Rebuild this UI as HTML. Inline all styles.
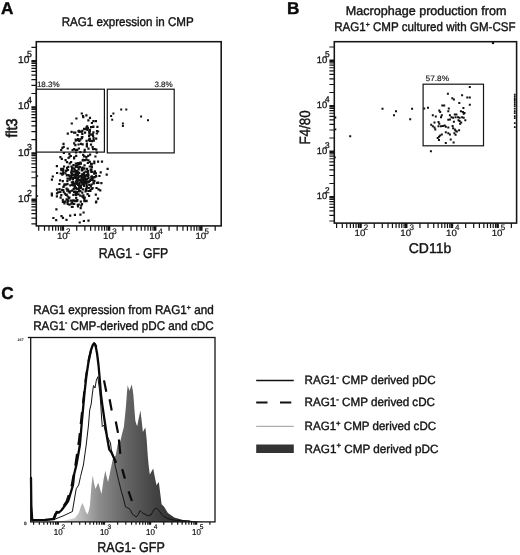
<!DOCTYPE html>
<html><head><meta charset="utf-8"><title>Figure</title>
<style>html,body{margin:0;padding:0;background:#fff}svg{display:block;font-family:'Liberation Sans', Arial, sans-serif;text-rendering:geometricPrecision}</style>
</head><body>
<svg width="520" height="555" viewBox="0 0 520 555">
<rect width="520" height="555" fill="#fff"/>
<text x="1.0" y="14.4" font-size="17.2" text-anchor="start" font-weight="bold" fill="#0a0a0a" stroke="#0a0a0a" stroke-width="0.4">A</text>
<text x="286.9" y="14.4" font-size="17.2" text-anchor="start" font-weight="bold" fill="#0a0a0a" stroke="#0a0a0a" stroke-width="0.4">B</text>
<text x="1.2" y="298.5" font-size="17.2" text-anchor="start" font-weight="bold" fill="#0a0a0a" stroke="#0a0a0a" stroke-width="0.4">C</text>
<text x="61.7" y="25.6" font-size="12.6" text-anchor="start" font-weight="normal" fill="#141414" stroke="#141414" stroke-width="0.4" textLength="132" lengthAdjust="spacingAndGlyphs">RAG1 expression in CMP</text>
<text x="345.8" y="14.8" font-size="12.6" text-anchor="start" font-weight="normal" fill="#141414" stroke="#141414" stroke-width="0.4" textLength="160.7" lengthAdjust="spacingAndGlyphs">Macrophage production from</text>
<text x="334.2" y="30.8" font-size="12.6" text-anchor="start" font-weight="normal" fill="#141414" stroke="#141414" stroke-width="0.4" textLength="181.4" lengthAdjust="spacingAndGlyphs">RAG1<tspan font-size="7.5" dy="-4.2">+</tspan><tspan dy="4.2"> CMP cultured with GM-CSF</tspan></text>
<text x="33.2" y="313.8" font-size="12.6" text-anchor="start" font-weight="normal" fill="#141414" stroke="#141414" stroke-width="0.4" textLength="180.5" lengthAdjust="spacingAndGlyphs">RAG1 expression from RAG1<tspan font-size="7.5" dy="-4.2">+</tspan><tspan dy="4.2"> and</tspan></text>
<text x="33.2" y="329.5" font-size="12.6" text-anchor="start" font-weight="normal" fill="#141414" stroke="#141414" stroke-width="0.4" textLength="180.5" lengthAdjust="spacingAndGlyphs">RAG1<tspan font-size="7.5" dy="-4.2">-</tspan><tspan dy="4.2"> CMP-derived pDC and cDC</tspan></text>
<rect x="36.3" y="41.7" width="184.89999999999998" height="184.2" fill="#fff" stroke="#141414" stroke-width="1.55"/>
<path d="M38.72 225.9v4.9M44.49 225.9v4.9M48.96 225.9v4.9M52.61 225.9v4.9M55.70 225.9v4.9M58.38 225.9v4.9M60.74 225.9v4.9M76.74 225.9v4.9M84.87 225.9v4.9M90.64 225.9v4.9M95.11 225.9v4.9M98.76 225.9v4.9M101.85 225.9v4.9M104.53 225.9v4.9M106.89 225.9v4.9M122.89 225.9v4.9M131.02 225.9v4.9M136.79 225.9v4.9M141.26 225.9v4.9M144.91 225.9v4.9M148.00 225.9v4.9M150.68 225.9v4.9M153.04 225.9v4.9M169.04 225.9v4.9M177.17 225.9v4.9M182.94 225.9v4.9M187.41 225.9v4.9M191.06 225.9v4.9M194.15 225.9v4.9M196.83 225.9v4.9M199.19 225.9v4.9M215.19 225.9v4.9" stroke="#141414" stroke-width="1.2" fill="none"/>
<path d="M62.85 225.9v4.9M109.00 225.9v4.9M155.15 225.9v4.9M201.30 225.9v4.9" stroke="#141414" stroke-width="2.52" fill="none"/>
<path d="M36.3 223.96h-4.9M36.3 218.18h-4.9M36.3 213.71h-4.9M36.3 210.05h-4.9M36.3 206.96h-4.9M36.3 204.28h-4.9M36.3 201.91h-4.9M36.3 185.89h-4.9M36.3 177.76h-4.9M36.3 171.98h-4.9M36.3 167.51h-4.9M36.3 163.85h-4.9M36.3 160.76h-4.9M36.3 158.08h-4.9M36.3 155.71h-4.9M36.3 139.69h-4.9M36.3 131.56h-4.9M36.3 125.78h-4.9M36.3 121.31h-4.9M36.3 117.65h-4.9M36.3 114.56h-4.9M36.3 111.88h-4.9M36.3 109.51h-4.9M36.3 93.49h-4.9M36.3 85.36h-4.9M36.3 79.58h-4.9M36.3 75.11h-4.9M36.3 71.45h-4.9M36.3 68.36h-4.9M36.3 65.68h-4.9M36.3 63.31h-4.9M36.3 47.29h-4.9" stroke="#141414" stroke-width="1.2" fill="none"/>
<path d="M36.3 199.80h-4.9M36.3 153.60h-4.9M36.3 107.40h-4.9M36.3 61.20h-4.9" stroke="#141414" stroke-width="2.52" fill="none"/>
<text x="67.75" y="239.2" font-size="9.0" text-anchor="end" fill="#141414" stroke="#141414" stroke-width="0.2" textLength="10.8" lengthAdjust="spacingAndGlyphs">10</text>
<text x="66.05" y="233.5" font-size="8.0" text-anchor="start" fill="#141414" stroke="#141414" stroke-width="0.2">2</text>
<text x="113.90" y="239.2" font-size="9.0" text-anchor="end" fill="#141414" stroke="#141414" stroke-width="0.2" textLength="10.8" lengthAdjust="spacingAndGlyphs">10</text>
<text x="112.20" y="233.5" font-size="8.0" text-anchor="start" fill="#141414" stroke="#141414" stroke-width="0.2">3</text>
<text x="160.05" y="239.2" font-size="9.0" text-anchor="end" fill="#141414" stroke="#141414" stroke-width="0.2" textLength="10.8" lengthAdjust="spacingAndGlyphs">10</text>
<text x="158.35" y="233.5" font-size="8.0" text-anchor="start" fill="#141414" stroke="#141414" stroke-width="0.2">4</text>
<text x="206.20" y="239.2" font-size="9.0" text-anchor="end" fill="#141414" stroke="#141414" stroke-width="0.2" textLength="10.8" lengthAdjust="spacingAndGlyphs">10</text>
<text x="204.50" y="233.5" font-size="8.0" text-anchor="start" fill="#141414" stroke="#141414" stroke-width="0.2">5</text>
<text x="29.3" y="201.70" font-size="10.0" text-anchor="end" fill="#141414" stroke="#141414" stroke-width="0.3" textLength="11.3" lengthAdjust="spacingAndGlyphs">10</text>
<text x="27.0" y="195.80" font-size="8.8" text-anchor="start" fill="#141414" stroke="#141414" stroke-width="0.3">2</text>
<text x="29.3" y="155.50" font-size="10.0" text-anchor="end" fill="#141414" stroke="#141414" stroke-width="0.3" textLength="11.3" lengthAdjust="spacingAndGlyphs">10</text>
<text x="27.0" y="149.60" font-size="8.8" text-anchor="start" fill="#141414" stroke="#141414" stroke-width="0.3">3</text>
<text x="29.3" y="109.30" font-size="10.0" text-anchor="end" fill="#141414" stroke="#141414" stroke-width="0.3" textLength="11.3" lengthAdjust="spacingAndGlyphs">10</text>
<text x="27.0" y="103.40" font-size="8.8" text-anchor="start" fill="#141414" stroke="#141414" stroke-width="0.3">4</text>
<text x="29.3" y="63.10" font-size="10.0" text-anchor="end" fill="#141414" stroke="#141414" stroke-width="0.3" textLength="11.3" lengthAdjust="spacingAndGlyphs">10</text>
<text x="27.0" y="57.20" font-size="8.8" text-anchor="start" fill="#141414" stroke="#141414" stroke-width="0.3">5</text>
<rect x="36.3" y="89.2" width="68.10000000000001" height="62.89999999999999" fill="none" stroke="#141414" stroke-width="1.2"/>
<rect x="107.3" y="89.2" width="66.89999999999999" height="63.7" fill="none" stroke="#141414" stroke-width="1.2"/>
<text x="36.9" y="86.8" font-size="7.8" text-anchor="start" font-weight="normal" fill="#141414" stroke="#141414" stroke-width="0.15" textLength="22.8" lengthAdjust="spacingAndGlyphs">18.3%</text>
<text x="154.4" y="86.8" font-size="7.8" text-anchor="start" font-weight="normal" fill="#141414" stroke="#141414" stroke-width="0.15" textLength="18.4" lengthAdjust="spacingAndGlyphs">3.8%</text>
<path d="M112.4 112.6h2.0v2.0h-2.0zM110.1 115.0h2.0v2.0h-2.0zM111.2 118.7h2.0v2.0h-2.0zM120.2 108.6h2.0v2.0h-2.0zM125.3 108.6h2.0v2.0h-2.0zM121.9 122.5h2.0v2.0h-2.0zM121.9 125.0h2.0v2.0h-2.0zM140.1 115.5h2.0v2.0h-2.0zM147.0 119.3h2.0v2.0h-2.0z" fill="#111"/>
<path d="M76.3 179.0h2.2v2.2h-2.2zM76.5 171.1h2.2v2.2h-2.2zM70.8 172.8h2.2v2.2h-2.2zM87.5 176.9h2.2v2.2h-2.2zM86.9 175.3h2.2v2.2h-2.2zM81.6 175.3h2.2v2.2h-2.2zM64.7 183.6h2.2v2.2h-2.2zM82.6 178.1h2.2v2.2h-2.2zM64.5 159.0h2.2v2.2h-2.2zM71.1 170.3h2.2v2.2h-2.2zM80.9 173.2h2.2v2.2h-2.2zM82.7 167.3h2.2v2.2h-2.2zM80.9 177.3h2.2v2.2h-2.2zM73.0 190.8h2.2v2.2h-2.2zM83.0 184.7h2.2v2.2h-2.2zM73.3 167.5h2.2v2.2h-2.2zM75.6 173.2h2.2v2.2h-2.2zM83.6 175.6h2.2v2.2h-2.2zM74.7 165.3h2.2v2.2h-2.2zM74.1 185.9h2.2v2.2h-2.2zM71.8 177.0h2.2v2.2h-2.2zM81.9 159.4h2.2v2.2h-2.2zM78.8 186.2h2.2v2.2h-2.2zM61.9 172.8h2.2v2.2h-2.2zM77.5 166.3h2.2v2.2h-2.2zM82.5 172.8h2.2v2.2h-2.2zM66.4 183.1h2.2v2.2h-2.2zM83.9 182.2h2.2v2.2h-2.2zM90.2 176.0h2.2v2.2h-2.2zM79.4 161.5h2.2v2.2h-2.2zM83.4 167.5h2.2v2.2h-2.2zM74.7 162.4h2.2v2.2h-2.2zM70.5 169.8h2.2v2.2h-2.2zM89.0 153.5h2.2v2.2h-2.2zM66.4 177.5h2.2v2.2h-2.2zM90.2 178.0h2.2v2.2h-2.2zM62.8 151.9h2.2v2.2h-2.2zM81.3 166.6h2.2v2.2h-2.2zM69.2 184.2h2.2v2.2h-2.2zM87.4 174.3h2.2v2.2h-2.2zM80.4 177.8h2.2v2.2h-2.2zM91.5 178.2h2.2v2.2h-2.2zM82.7 178.6h2.2v2.2h-2.2zM65.5 187.5h2.2v2.2h-2.2zM86.2 178.0h2.2v2.2h-2.2zM62.2 169.8h2.2v2.2h-2.2zM85.3 156.0h2.2v2.2h-2.2zM76.9 183.7h2.2v2.2h-2.2zM67.6 190.4h2.2v2.2h-2.2zM82.9 172.0h2.2v2.2h-2.2zM81.1 179.7h2.2v2.2h-2.2zM79.4 184.6h2.2v2.2h-2.2zM73.0 170.6h2.2v2.2h-2.2zM86.9 173.2h2.2v2.2h-2.2zM71.2 183.7h2.2v2.2h-2.2zM90.4 168.3h2.2v2.2h-2.2zM67.1 173.9h2.2v2.2h-2.2zM77.2 171.2h2.2v2.2h-2.2zM89.9 162.9h2.2v2.2h-2.2zM88.7 160.7h2.2v2.2h-2.2zM71.9 180.6h2.2v2.2h-2.2zM87.7 180.9h2.2v2.2h-2.2zM81.2 174.9h2.2v2.2h-2.2zM79.7 179.2h2.2v2.2h-2.2zM77.0 176.7h2.2v2.2h-2.2zM83.1 173.4h2.2v2.2h-2.2zM84.7 178.5h2.2v2.2h-2.2zM94.9 175.1h2.2v2.2h-2.2zM74.9 170.8h2.2v2.2h-2.2zM78.3 182.6h2.2v2.2h-2.2zM75.6 177.9h2.2v2.2h-2.2zM93.5 147.9h2.2v2.2h-2.2zM69.2 177.3h2.2v2.2h-2.2zM81.7 175.8h2.2v2.2h-2.2zM74.9 180.5h2.2v2.2h-2.2zM80.7 168.7h2.2v2.2h-2.2zM98.3 174.9h2.2v2.2h-2.2zM73.9 173.5h2.2v2.2h-2.2zM76.6 173.5h2.2v2.2h-2.2zM56.0 171.9h2.2v2.2h-2.2zM86.7 161.9h2.2v2.2h-2.2zM77.9 183.0h2.2v2.2h-2.2zM85.4 187.2h2.2v2.2h-2.2zM64.4 172.2h2.2v2.2h-2.2zM75.6 180.1h2.2v2.2h-2.2zM87.4 147.5h2.2v2.2h-2.2zM87.3 159.2h2.2v2.2h-2.2zM84.0 159.1h2.2v2.2h-2.2zM79.8 185.0h2.2v2.2h-2.2zM77.2 175.8h2.2v2.2h-2.2zM84.9 174.5h2.2v2.2h-2.2zM77.7 188.5h2.2v2.2h-2.2zM87.0 170.1h2.2v2.2h-2.2zM100.9 160.5h2.2v2.2h-2.2zM85.9 170.5h2.2v2.2h-2.2zM79.5 180.4h2.2v2.2h-2.2zM80.2 179.7h2.2v2.2h-2.2zM65.9 161.1h2.2v2.2h-2.2zM83.4 164.2h2.2v2.2h-2.2zM70.0 161.0h2.2v2.2h-2.2zM88.8 179.8h2.2v2.2h-2.2zM90.5 163.6h2.2v2.2h-2.2zM78.4 163.1h2.2v2.2h-2.2zM84.7 188.2h2.2v2.2h-2.2zM71.1 189.5h2.2v2.2h-2.2zM86.5 171.3h2.2v2.2h-2.2zM62.2 189.1h2.2v2.2h-2.2zM77.6 168.3h2.2v2.2h-2.2zM81.7 177.4h2.2v2.2h-2.2zM90.7 162.8h2.2v2.2h-2.2zM87.7 186.9h2.2v2.2h-2.2zM90.3 170.8h2.2v2.2h-2.2zM72.3 184.2h2.2v2.2h-2.2zM79.3 175.0h2.2v2.2h-2.2zM90.1 170.1h2.2v2.2h-2.2zM59.6 172.4h2.2v2.2h-2.2zM63.2 183.4h2.2v2.2h-2.2zM81.0 167.8h2.2v2.2h-2.2zM78.3 181.8h2.2v2.2h-2.2zM79.0 186.4h2.2v2.2h-2.2zM77.9 183.8h2.2v2.2h-2.2zM90.6 187.7h2.2v2.2h-2.2zM72.9 182.9h2.2v2.2h-2.2zM63.0 165.4h2.2v2.2h-2.2zM62.3 185.9h2.2v2.2h-2.2zM68.3 174.9h2.2v2.2h-2.2zM76.8 173.8h2.2v2.2h-2.2zM73.5 176.7h2.2v2.2h-2.2zM93.1 172.6h2.2v2.2h-2.2zM82.8 182.9h2.2v2.2h-2.2zM76.8 162.2h2.2v2.2h-2.2zM73.8 184.6h2.2v2.2h-2.2zM64.9 169.8h2.2v2.2h-2.2zM86.7 180.4h2.2v2.2h-2.2zM78.5 181.5h2.2v2.2h-2.2zM79.8 162.6h2.2v2.2h-2.2zM65.6 169.3h2.2v2.2h-2.2zM86.0 167.7h2.2v2.2h-2.2zM71.0 167.5h2.2v2.2h-2.2zM65.8 174.2h2.2v2.2h-2.2zM68.7 178.5h2.2v2.2h-2.2zM59.0 179.2h2.2v2.2h-2.2zM73.1 156.2h2.2v2.2h-2.2zM84.3 170.6h2.2v2.2h-2.2zM60.1 167.7h2.2v2.2h-2.2zM80.8 169.3h2.2v2.2h-2.2zM84.8 180.2h2.2v2.2h-2.2zM83.9 176.4h2.2v2.2h-2.2zM89.3 178.9h2.2v2.2h-2.2zM82.1 153.8h2.2v2.2h-2.2zM85.8 185.4h2.2v2.2h-2.2zM76.0 169.7h2.2v2.2h-2.2zM94.3 155.4h2.2v2.2h-2.2zM82.2 196.4h2.2v2.2h-2.2zM70.8 181.3h2.2v2.2h-2.2zM93.9 171.0h2.2v2.2h-2.2zM83.0 181.9h2.2v2.2h-2.2zM71.0 173.9h2.2v2.2h-2.2zM80.8 181.4h2.2v2.2h-2.2zM78.1 172.1h2.2v2.2h-2.2zM70.1 171.5h2.2v2.2h-2.2zM85.7 174.0h2.2v2.2h-2.2zM71.4 166.8h2.2v2.2h-2.2zM100.3 182.1h2.2v2.2h-2.2zM83.6 148.8h2.2v2.2h-2.2zM83.5 177.9h2.2v2.2h-2.2zM92.2 176.3h2.2v2.2h-2.2zM77.8 178.9h2.2v2.2h-2.2zM62.5 185.5h2.2v2.2h-2.2zM81.1 167.0h2.2v2.2h-2.2zM89.3 189.7h2.2v2.2h-2.2zM66.9 168.9h2.2v2.2h-2.2zM80.8 175.4h2.2v2.2h-2.2zM75.1 165.1h2.2v2.2h-2.2zM95.8 181.7h2.2v2.2h-2.2zM68.6 162.3h2.2v2.2h-2.2zM92.4 181.6h2.2v2.2h-2.2zM93.3 179.8h2.2v2.2h-2.2zM71.2 177.2h2.2v2.2h-2.2zM60.7 168.9h2.2v2.2h-2.2zM77.9 178.9h2.2v2.2h-2.2zM72.4 173.4h2.2v2.2h-2.2zM82.2 177.0h2.2v2.2h-2.2zM83.6 175.3h2.2v2.2h-2.2zM75.7 181.7h2.2v2.2h-2.2zM78.8 166.0h2.2v2.2h-2.2zM73.3 174.5h2.2v2.2h-2.2zM77.5 175.5h2.2v2.2h-2.2zM78.4 175.6h2.2v2.2h-2.2zM77.3 162.1h2.2v2.2h-2.2zM80.9 203.0h2.2v2.2h-2.2zM81.1 182.3h2.2v2.2h-2.2zM81.2 169.3h2.2v2.2h-2.2zM50.8 194.3h2.2v2.2h-2.2zM63.3 202.4h2.2v2.2h-2.2zM61.3 146.8h2.2v2.2h-2.2zM61.9 216.7h2.2v2.2h-2.2zM70.4 165.4h2.2v2.2h-2.2zM65.5 198.2h2.2v2.2h-2.2zM81.9 188.2h2.2v2.2h-2.2zM94.7 193.6h2.2v2.2h-2.2zM75.1 196.9h2.2v2.2h-2.2zM96.9 197.5h2.2v2.2h-2.2zM88.7 165.4h2.2v2.2h-2.2zM73.5 199.6h2.2v2.2h-2.2zM71.5 205.7h2.2v2.2h-2.2zM83.2 200.0h2.2v2.2h-2.2zM91.5 179.1h2.2v2.2h-2.2zM70.9 202.6h2.2v2.2h-2.2zM88.1 183.7h2.2v2.2h-2.2zM60.2 194.0h2.2v2.2h-2.2zM80.1 204.5h2.2v2.2h-2.2zM85.6 184.6h2.2v2.2h-2.2zM86.5 193.0h2.2v2.2h-2.2zM78.1 187.1h2.2v2.2h-2.2zM72.2 199.2h2.2v2.2h-2.2zM61.7 180.0h2.2v2.2h-2.2zM75.5 162.5h2.2v2.2h-2.2zM69.7 154.9h2.2v2.2h-2.2zM66.5 198.7h2.2v2.2h-2.2zM82.8 184.1h2.2v2.2h-2.2zM72.4 164.1h2.2v2.2h-2.2zM99.2 189.3h2.2v2.2h-2.2zM89.6 168.5h2.2v2.2h-2.2zM73.0 157.2h2.2v2.2h-2.2zM85.5 199.8h2.2v2.2h-2.2zM50.7 192.5h2.2v2.2h-2.2zM83.6 155.4h2.2v2.2h-2.2zM51.7 175.4h2.2v2.2h-2.2zM67.2 165.7h2.2v2.2h-2.2zM75.8 191.0h2.2v2.2h-2.2zM83.6 196.4h2.2v2.2h-2.2zM94.9 201.2h2.2v2.2h-2.2zM58.3 182.9h2.2v2.2h-2.2zM61.6 172.6h2.2v2.2h-2.2zM74.3 187.3h2.2v2.2h-2.2zM81.8 158.8h2.2v2.2h-2.2zM59.3 190.7h2.2v2.2h-2.2zM72.8 182.4h2.2v2.2h-2.2zM74.6 174.5h2.2v2.2h-2.2zM84.5 190.4h2.2v2.2h-2.2zM74.3 176.0h2.2v2.2h-2.2zM73.1 142.2h2.2v2.2h-2.2zM62.6 190.9h2.2v2.2h-2.2zM55.8 195.3h2.2v2.2h-2.2zM77.3 163.5h2.2v2.2h-2.2zM72.1 182.5h2.2v2.2h-2.2zM81.4 195.5h2.2v2.2h-2.2zM74.9 172.8h2.2v2.2h-2.2zM73.5 186.3h2.2v2.2h-2.2zM84.9 189.3h2.2v2.2h-2.2zM66.0 166.8h2.2v2.2h-2.2zM70.5 175.8h2.2v2.2h-2.2zM60.9 188.7h2.2v2.2h-2.2zM69.0 190.3h2.2v2.2h-2.2zM82.2 178.2h2.2v2.2h-2.2zM105.6 173.6h2.2v2.2h-2.2zM89.7 185.2h2.2v2.2h-2.2zM89.9 143.5h2.2v2.2h-2.2zM65.6 193.6h2.2v2.2h-2.2zM79.6 207.1h2.2v2.2h-2.2zM85.4 200.1h2.2v2.2h-2.2zM82.0 182.6h2.2v2.2h-2.2zM82.0 167.2h2.2v2.2h-2.2zM90.8 165.9h2.2v2.2h-2.2zM78.6 221.4h2.2v2.2h-2.2zM72.5 188.0h2.2v2.2h-2.2zM90.5 183.4h2.2v2.2h-2.2zM64.9 193.9h2.2v2.2h-2.2zM83.0 196.7h2.2v2.2h-2.2zM65.4 218.7h2.2v2.2h-2.2zM97.1 181.5h2.2v2.2h-2.2zM78.9 178.8h2.2v2.2h-2.2zM93.8 170.3h2.2v2.2h-2.2zM84.2 176.6h2.2v2.2h-2.2zM66.4 201.2h2.2v2.2h-2.2zM92.7 182.2h2.2v2.2h-2.2zM66.6 202.7h2.2v2.2h-2.2zM74.8 192.2h2.2v2.2h-2.2zM95.2 200.6h2.2v2.2h-2.2zM75.4 200.0h2.2v2.2h-2.2zM67.0 188.4h2.2v2.2h-2.2zM93.2 162.0h2.2v2.2h-2.2zM55.8 165.0h2.2v2.2h-2.2zM90.7 175.2h2.2v2.2h-2.2zM74.6 181.9h2.2v2.2h-2.2zM73.8 169.2h2.2v2.2h-2.2zM75.7 162.9h2.2v2.2h-2.2zM74.5 192.3h2.2v2.2h-2.2zM81.5 181.5h2.2v2.2h-2.2zM63.7 192.6h2.2v2.2h-2.2zM69.1 214.6h2.2v2.2h-2.2zM85.4 182.4h2.2v2.2h-2.2zM69.3 176.8h2.2v2.2h-2.2zM63.2 184.2h2.2v2.2h-2.2zM79.2 194.5h2.2v2.2h-2.2zM82.8 219.9h2.2v2.2h-2.2zM66.2 189.5h2.2v2.2h-2.2zM68.6 191.5h2.2v2.2h-2.2zM77.4 193.2h2.2v2.2h-2.2zM72.3 193.8h2.2v2.2h-2.2zM76.1 199.6h2.2v2.2h-2.2zM50.8 178.6h2.2v2.2h-2.2zM75.4 169.7h2.2v2.2h-2.2zM61.8 200.9h2.2v2.2h-2.2zM67.0 199.7h2.2v2.2h-2.2zM85.1 189.5h2.2v2.2h-2.2zM82.0 183.4h2.2v2.2h-2.2zM57.1 191.2h2.2v2.2h-2.2zM81.3 176.5h2.2v2.2h-2.2zM74.1 199.7h2.2v2.2h-2.2zM64.0 200.5h2.2v2.2h-2.2zM99.6 171.3h2.2v2.2h-2.2zM77.3 183.9h2.2v2.2h-2.2zM95.4 186.9h2.2v2.2h-2.2zM87.1 172.4h2.2v2.2h-2.2zM75.2 186.8h2.2v2.2h-2.2zM52.3 216.9h2.2v2.2h-2.2zM87.1 154.7h2.2v2.2h-2.2zM85.1 182.2h2.2v2.2h-2.2zM81.2 191.5h2.2v2.2h-2.2zM55.9 188.5h2.2v2.2h-2.2zM94.8 172.2h2.2v2.2h-2.2zM62.1 167.7h2.2v2.2h-2.2zM59.5 196.6h2.2v2.2h-2.2zM97.4 188.3h2.2v2.2h-2.2zM68.6 177.4h2.2v2.2h-2.2zM82.3 194.2h2.2v2.2h-2.2zM62.2 170.9h2.2v2.2h-2.2zM79.2 190.0h2.2v2.2h-2.2zM58.4 188.0h2.2v2.2h-2.2zM68.3 196.4h2.2v2.2h-2.2zM73.9 185.9h2.2v2.2h-2.2zM70.8 205.7h2.2v2.2h-2.2zM93.5 176.1h2.2v2.2h-2.2zM86.4 171.4h2.2v2.2h-2.2zM76.3 199.1h2.2v2.2h-2.2zM95.1 175.4h2.2v2.2h-2.2zM74.4 190.4h2.2v2.2h-2.2zM55.9 192.3h2.2v2.2h-2.2zM66.6 195.4h2.2v2.2h-2.2zM60.7 157.8h2.2v2.2h-2.2zM75.9 191.1h2.2v2.2h-2.2zM68.3 203.6h2.2v2.2h-2.2zM71.8 177.7h2.2v2.2h-2.2zM81.6 159.2h2.2v2.2h-2.2zM66.6 188.9h2.2v2.2h-2.2zM86.4 181.3h2.2v2.2h-2.2zM79.4 174.9h2.2v2.2h-2.2zM79.3 213.6h2.2v2.2h-2.2zM67.0 189.4h2.2v2.2h-2.2zM77.7 203.4h2.2v2.2h-2.2zM59.3 156.1h2.2v2.2h-2.2zM83.3 198.1h2.2v2.2h-2.2zM78.1 190.4h2.2v2.2h-2.2zM87.5 189.9h2.2v2.2h-2.2zM97.0 160.6h2.2v2.2h-2.2zM70.5 130.8h2.2v2.2h-2.2zM86.0 177.9h2.2v2.2h-2.2zM87.4 219.6h2.2v2.2h-2.2zM75.3 182.7h2.2v2.2h-2.2zM68.9 174.6h2.2v2.2h-2.2zM67.2 199.7h2.2v2.2h-2.2zM75.9 187.9h2.2v2.2h-2.2zM73.1 202.7h2.2v2.2h-2.2zM81.8 182.9h2.2v2.2h-2.2zM84.0 182.1h2.2v2.2h-2.2zM60.4 215.1h2.2v2.2h-2.2zM81.4 169.4h2.2v2.2h-2.2zM89.4 189.0h2.2v2.2h-2.2zM55.1 219.0h2.2v2.2h-2.2zM79.7 200.6h2.2v2.2h-2.2zM78.0 183.7h2.2v2.2h-2.2zM55.3 208.3h2.2v2.2h-2.2zM75.8 182.0h2.2v2.2h-2.2zM80.0 187.0h2.2v2.2h-2.2zM84.2 178.4h2.2v2.2h-2.2zM74.9 151.4h2.2v2.2h-2.2zM69.9 199.6h2.2v2.2h-2.2zM92.8 176.3h2.2v2.2h-2.2zM73.8 213.7h2.2v2.2h-2.2zM71.2 200.2h2.2v2.2h-2.2zM97.2 181.9h2.2v2.2h-2.2zM91.3 170.9h2.2v2.2h-2.2zM78.1 184.9h2.2v2.2h-2.2zM76.9 205.3h2.2v2.2h-2.2zM106.5 167.7h2.2v2.2h-2.2zM67.9 197.1h2.2v2.2h-2.2zM61.7 198.8h2.2v2.2h-2.2zM82.8 180.3h2.2v2.2h-2.2zM82.3 159.3h2.2v2.2h-2.2zM85.3 158.6h2.2v2.2h-2.2zM66.3 180.0h2.2v2.2h-2.2zM70.2 202.6h2.2v2.2h-2.2zM76.5 180.0h2.2v2.2h-2.2zM82.5 211.4h2.2v2.2h-2.2zM75.5 193.0h2.2v2.2h-2.2zM91.5 187.1h2.2v2.2h-2.2zM74.9 194.0h2.2v2.2h-2.2zM88.0 194.8h2.2v2.2h-2.2zM71.9 170.3h2.2v2.2h-2.2zM76.7 203.8h2.2v2.2h-2.2zM61.2 173.5h2.2v2.2h-2.2zM75.1 154.7h2.2v2.2h-2.2zM72.0 180.5h2.2v2.2h-2.2zM81.3 173.7h2.2v2.2h-2.2zM63.9 183.3h2.2v2.2h-2.2zM74.8 176.0h2.2v2.2h-2.2zM75.6 199.4h2.2v2.2h-2.2zM95.2 148.5h2.2v2.2h-2.2zM76.5 134.0h2.2v2.2h-2.2zM60.3 169.1h2.2v2.2h-2.2zM77.0 138.1h2.2v2.2h-2.2zM88.9 116.7h2.2v2.2h-2.2zM88.3 132.3h2.2v2.2h-2.2zM66.6 147.4h2.2v2.2h-2.2zM91.6 133.3h2.2v2.2h-2.2zM88.4 137.6h2.2v2.2h-2.2zM96.3 125.8h2.2v2.2h-2.2zM92.2 125.8h2.2v2.2h-2.2zM90.8 121.9h2.2v2.2h-2.2zM82.9 155.3h2.2v2.2h-2.2zM88.1 130.9h2.2v2.2h-2.2zM73.0 131.6h2.2v2.2h-2.2zM85.7 144.7h2.2v2.2h-2.2zM87.9 138.8h2.2v2.2h-2.2zM83.5 150.6h2.2v2.2h-2.2zM80.2 130.6h2.2v2.2h-2.2zM92.3 131.2h2.2v2.2h-2.2zM81.3 129.7h2.2v2.2h-2.2zM81.5 143.3h2.2v2.2h-2.2zM87.3 119.3h2.2v2.2h-2.2zM88.0 134.8h2.2v2.2h-2.2zM74.4 148.8h2.2v2.2h-2.2zM81.2 132.5h2.2v2.2h-2.2zM91.5 146.1h2.2v2.2h-2.2zM77.4 143.4h2.2v2.2h-2.2zM75.6 165.8h2.2v2.2h-2.2zM79.2 151.1h2.2v2.2h-2.2zM77.8 147.4h2.2v2.2h-2.2zM79.8 142.8h2.2v2.2h-2.2zM83.0 127.7h2.2v2.2h-2.2zM68.3 152.9h2.2v2.2h-2.2zM67.5 156.7h2.2v2.2h-2.2zM78.4 139.4h2.2v2.2h-2.2zM95.9 129.9h2.2v2.2h-2.2zM70.7 122.4h2.2v2.2h-2.2zM95.1 137.5h2.2v2.2h-2.2zM76.2 148.8h2.2v2.2h-2.2zM88.6 139.8h2.2v2.2h-2.2zM62.4 142.7h2.2v2.2h-2.2zM92.5 138.8h2.2v2.2h-2.2zM85.5 139.7h2.2v2.2h-2.2zM80.8 137.0h2.2v2.2h-2.2zM92.3 125.4h2.2v2.2h-2.2zM94.8 120.1h2.2v2.2h-2.2zM86.4 127.5h2.2v2.2h-2.2zM85.4 126.2h2.2v2.2h-2.2zM68.7 155.4h2.2v2.2h-2.2zM86.8 127.0h2.2v2.2h-2.2zM85.8 145.2h2.2v2.2h-2.2zM74.6 138.5h2.2v2.2h-2.2zM89.0 138.2h2.2v2.2h-2.2zM80.7 112.4h2.2v2.2h-2.2zM95.7 132.4h2.2v2.2h-2.2zM84.0 131.6h2.2v2.2h-2.2zM86.4 128.7h2.2v2.2h-2.2zM74.2 131.5h2.2v2.2h-2.2zM78.2 130.9h2.2v2.2h-2.2zM72.9 148.0h2.2v2.2h-2.2zM71.5 149.0h2.2v2.2h-2.2zM74.3 144.0h2.2v2.2h-2.2zM97.0 130.4h2.2v2.2h-2.2zM77.0 139.1h2.2v2.2h-2.2zM85.3 114.3h2.2v2.2h-2.2zM78.1 139.8h2.2v2.2h-2.2zM79.4 138.2h2.2v2.2h-2.2zM90.9 140.0h2.2v2.2h-2.2zM92.5 137.1h2.2v2.2h-2.2zM81.2 136.1h2.2v2.2h-2.2zM81.3 132.7h2.2v2.2h-2.2zM82.2 116.0h2.2v2.2h-2.2zM80.7 136.3h2.2v2.2h-2.2zM74.6 139.5h2.2v2.2h-2.2zM88.8 130.4h2.2v2.2h-2.2zM81.9 115.0h2.2v2.2h-2.2zM93.2 160.4h2.2v2.2h-2.2zM60.1 148.9h2.2v2.2h-2.2zM88.8 128.8h2.2v2.2h-2.2zM92.0 134.9h2.2v2.2h-2.2zM84.1 128.1h2.2v2.2h-2.2zM90.0 126.1h2.2v2.2h-2.2zM86.0 127.9h2.2v2.2h-2.2zM62.6 145.8h2.2v2.2h-2.2zM85.8 142.5h2.2v2.2h-2.2zM75.6 138.9h2.2v2.2h-2.2zM89.8 133.5h2.2v2.2h-2.2zM95.7 151.5h2.2v2.2h-2.2zM75.3 117.4h2.2v2.2h-2.2zM92.0 148.1h2.2v2.2h-2.2zM92.7 139.6h2.2v2.2h-2.2zM78.0 129.8h2.2v2.2h-2.2zM92.3 120.0h2.2v2.2h-2.2zM66.7 132.5h2.2v2.2h-2.2zM77.4 130.0h2.2v2.2h-2.2zM86.1 125.2h2.2v2.2h-2.2z" fill="#111"/>
<path d="M36.5 175.2h1.6v1.6h-1.6zM36.5 195.2h1.6v1.6h-1.6z" fill="#111"/>
<text x="133.5" y="257.5" font-size="14.2" text-anchor="middle" font-weight="normal" fill="#141414" stroke="#141414" stroke-width="0.4" textLength="69.5" lengthAdjust="spacingAndGlyphs">RAG1 - GFP</text>
<text transform="translate(16.8 128) rotate(-90)" font-size="15.6" text-anchor="middle" fill="#141414" stroke="#141414" stroke-width="0.6" textLength="19.2" lengthAdjust="spacingAndGlyphs">flt3</text>
<rect x="334.3" y="41.7" width="182.3" height="181.39999999999998" fill="#fff" stroke="#141414" stroke-width="1.55"/>
<path d="M336.60 223.1v4.9M342.31 223.1v4.9M346.74 223.1v4.9M350.36 223.1v4.9M353.42 223.1v4.9M356.07 223.1v4.9M358.41 223.1v4.9M374.26 223.1v4.9M382.30 223.1v4.9M388.01 223.1v4.9M392.44 223.1v4.9M396.06 223.1v4.9M399.12 223.1v4.9M401.77 223.1v4.9M404.11 223.1v4.9M419.96 223.1v4.9M428.00 223.1v4.9M433.71 223.1v4.9M438.14 223.1v4.9M441.76 223.1v4.9M444.82 223.1v4.9M447.47 223.1v4.9M449.81 223.1v4.9M465.66 223.1v4.9M473.70 223.1v4.9M479.41 223.1v4.9M483.84 223.1v4.9M487.46 223.1v4.9M490.52 223.1v4.9M493.17 223.1v4.9M495.51 223.1v4.9M511.36 223.1v4.9" stroke="#141414" stroke-width="1.2" fill="none"/>
<path d="M360.50 223.1v4.9M406.20 223.1v4.9M451.90 223.1v4.9M497.60 223.1v4.9" stroke="#141414" stroke-width="2.52" fill="none"/>
<path d="M334.3 220.99h-4.9M334.3 215.31h-4.9M334.3 210.90h-4.9M334.3 207.29h-4.9M334.3 204.25h-4.9M334.3 201.61h-4.9M334.3 199.28h-4.9M334.3 183.50h-4.9M334.3 175.49h-4.9M334.3 169.81h-4.9M334.3 165.40h-4.9M334.3 161.79h-4.9M334.3 158.75h-4.9M334.3 156.11h-4.9M334.3 153.78h-4.9M334.3 138.00h-4.9M334.3 129.99h-4.9M334.3 124.31h-4.9M334.3 119.90h-4.9M334.3 116.29h-4.9M334.3 113.25h-4.9M334.3 110.61h-4.9M334.3 108.28h-4.9M334.3 92.50h-4.9M334.3 84.49h-4.9M334.3 78.81h-4.9M334.3 74.40h-4.9M334.3 70.79h-4.9M334.3 67.75h-4.9M334.3 65.11h-4.9M334.3 62.78h-4.9M334.3 47.00h-4.9" stroke="#141414" stroke-width="1.2" fill="none"/>
<path d="M334.3 197.20h-4.9M334.3 151.70h-4.9M334.3 106.20h-4.9M334.3 60.70h-4.9" stroke="#141414" stroke-width="2.52" fill="none"/>
<text x="365.40" y="236.2" font-size="9.0" text-anchor="end" fill="#141414" stroke="#141414" stroke-width="0.2" textLength="10.8" lengthAdjust="spacingAndGlyphs">10</text>
<text x="363.70" y="230.0" font-size="8.0" text-anchor="start" fill="#141414" stroke="#141414" stroke-width="0.2">2</text>
<text x="411.10" y="236.2" font-size="9.0" text-anchor="end" fill="#141414" stroke="#141414" stroke-width="0.2" textLength="10.8" lengthAdjust="spacingAndGlyphs">10</text>
<text x="409.40" y="230.0" font-size="8.0" text-anchor="start" fill="#141414" stroke="#141414" stroke-width="0.2">3</text>
<text x="456.80" y="236.2" font-size="9.0" text-anchor="end" fill="#141414" stroke="#141414" stroke-width="0.2" textLength="10.8" lengthAdjust="spacingAndGlyphs">10</text>
<text x="455.10" y="230.0" font-size="8.0" text-anchor="start" fill="#141414" stroke="#141414" stroke-width="0.2">4</text>
<text x="502.50" y="236.2" font-size="9.0" text-anchor="end" fill="#141414" stroke="#141414" stroke-width="0.2" textLength="10.8" lengthAdjust="spacingAndGlyphs">10</text>
<text x="500.80" y="230.0" font-size="8.0" text-anchor="start" fill="#141414" stroke="#141414" stroke-width="0.2">5</text>
<text x="327.2" y="199.10" font-size="9.3" text-anchor="end" fill="#141414" stroke="#141414" stroke-width="0.3" textLength="10.4" lengthAdjust="spacingAndGlyphs">10</text>
<text x="324.9" y="193.20" font-size="8.3" text-anchor="start" fill="#141414" stroke="#141414" stroke-width="0.3">2</text>
<text x="327.2" y="153.60" font-size="9.3" text-anchor="end" fill="#141414" stroke="#141414" stroke-width="0.3" textLength="10.4" lengthAdjust="spacingAndGlyphs">10</text>
<text x="324.9" y="147.70" font-size="8.3" text-anchor="start" fill="#141414" stroke="#141414" stroke-width="0.3">3</text>
<text x="327.2" y="108.10" font-size="9.3" text-anchor="end" fill="#141414" stroke="#141414" stroke-width="0.3" textLength="10.4" lengthAdjust="spacingAndGlyphs">10</text>
<text x="324.9" y="102.20" font-size="8.3" text-anchor="start" fill="#141414" stroke="#141414" stroke-width="0.3">4</text>
<text x="327.2" y="62.60" font-size="9.3" text-anchor="end" fill="#141414" stroke="#141414" stroke-width="0.3" textLength="10.4" lengthAdjust="spacingAndGlyphs">10</text>
<text x="324.9" y="56.70" font-size="8.3" text-anchor="start" fill="#141414" stroke="#141414" stroke-width="0.3">5</text>
<rect x="423.1" y="84.2" width="60.39999999999998" height="61.60000000000001" fill="none" stroke="#141414" stroke-width="1.2"/>
<text x="425.5" y="81.2" font-size="7.8" text-anchor="start" font-weight="normal" fill="#141414" stroke="#141414" stroke-width="0.15" textLength="23.6" lengthAdjust="spacingAndGlyphs">57.8%</text>
<path d="M468.8 85.9h2.0v2.0h-2.0zM446.9 92.7h2.0v2.0h-2.0zM461.1 94.3h2.0v2.0h-2.0zM466.3 96.5h2.0v2.0h-2.0zM468.8 96.5h2.0v2.0h-2.0zM451.3 97.3h2.0v2.0h-2.0zM452.9 98.4h2.0v2.0h-2.0zM458.3 102.1h2.0v2.0h-2.0zM468.8 103.8h2.0v2.0h-2.0zM441.3 104.6h2.0v2.0h-2.0zM443.2 104.6h2.0v2.0h-2.0zM427.0 106.7h2.0v2.0h-2.0zM423.2 107.5h2.0v2.0h-2.0zM447.8 107.5h2.0v2.0h-2.0zM462.4 107.0h2.0v2.0h-2.0zM438.3 109.4h2.0v2.0h-2.0zM439.2 111.1h2.0v2.0h-2.0zM447.3 110.2h2.0v2.0h-2.0zM459.9 110.2h2.0v2.0h-2.0zM461.9 111.1h2.0v2.0h-2.0zM463.5 111.9h2.0v2.0h-2.0zM462.7 112.7h2.0v2.0h-2.0zM453.8 113.5h2.0v2.0h-2.0zM455.4 113.5h2.0v2.0h-2.0zM448.9 114.3h2.0v2.0h-2.0zM431.8 114.3h2.0v2.0h-2.0zM434.8 115.6h2.0v2.0h-2.0zM440.8 114.3h2.0v2.0h-2.0zM440.0 116.3h2.0v2.0h-2.0zM450.5 116.3h2.0v2.0h-2.0zM452.1 116.7h2.0v2.0h-2.0zM454.6 116.3h2.0v2.0h-2.0zM457.0 116.3h2.0v2.0h-2.0zM458.6 116.7h2.0v2.0h-2.0zM461.1 116.3h2.0v2.0h-2.0zM462.7 116.7h2.0v2.0h-2.0zM464.3 119.2h2.0v2.0h-2.0zM447.3 118.7h2.0v2.0h-2.0zM448.9 118.4h2.0v2.0h-2.0zM452.9 120.8h2.0v2.0h-2.0zM457.5 119.2h2.0v2.0h-2.0zM458.6 120.0h2.0v2.0h-2.0zM433.5 121.6h2.0v2.0h-2.0zM437.5 121.1h2.0v2.0h-2.0zM438.3 122.7h2.0v2.0h-2.0zM430.2 123.7h2.0v2.0h-2.0zM431.8 125.3h2.0v2.0h-2.0zM433.5 126.5h2.0v2.0h-2.0zM434.3 128.6h2.0v2.0h-2.0zM437.5 125.3h2.0v2.0h-2.0zM440.0 125.3h2.0v2.0h-2.0zM441.9 124.9h2.0v2.0h-2.0zM443.7 124.4h2.0v2.0h-2.0zM444.8 125.7h2.0v2.0h-2.0zM447.3 126.5h2.0v2.0h-2.0zM451.6 124.9h2.0v2.0h-2.0zM452.1 127.3h2.0v2.0h-2.0zM453.8 128.6h2.0v2.0h-2.0zM454.6 129.7h2.0v2.0h-2.0zM455.9 130.5h2.0v2.0h-2.0zM458.1 129.2h2.0v2.0h-2.0zM459.1 122.7h2.0v2.0h-2.0zM460.2 121.6h2.0v2.0h-2.0zM444.8 131.3h2.0v2.0h-2.0zM447.3 132.2h2.0v2.0h-2.0zM448.9 133.5h2.0v2.0h-2.0zM453.4 132.2h2.0v2.0h-2.0zM454.6 133.8h2.0v2.0h-2.0zM440.8 133.5h2.0v2.0h-2.0zM439.2 134.6h2.0v2.0h-2.0zM438.0 135.7h2.0v2.0h-2.0zM436.7 137.0h2.0v2.0h-2.0zM438.0 139.0h2.0v2.0h-2.0zM449.7 138.6h2.0v2.0h-2.0zM444.8 141.9h2.0v2.0h-2.0zM452.6 141.6h2.0v2.0h-2.0zM429.9 150.3h2.0v2.0h-2.0zM381.5 107.7h2.0v2.0h-2.0zM395.0 110.3h2.0v2.0h-2.0zM393.0 114.2h2.0v2.0h-2.0zM411.1 107.7h2.0v2.0h-2.0zM409.2 118.2h2.0v2.0h-2.0zM349.2 135.2h2.0v2.0h-2.0z" fill="#111"/>
<path d="M334.5 116.6h1.8v1.8h-1.8zM334.5 128.5h1.8v1.8h-1.8zM334.0 156.4h1.8v1.8h-1.8z" fill="#111"/>
<path d="M491.9 41.9h2.2v2.2h-2.2z" fill="#111"/>
<path d="M513.9 93.7h1.7v1.7h-1.7zM513.9 95.7h1.7v1.7h-1.7zM513.9 97.7h1.7v1.7h-1.7zM513.9 99.2h1.7v1.7h-1.7zM513.9 101.2h1.7v1.7h-1.7zM513.9 103.2h1.7v1.7h-1.7zM513.9 105.2h1.7v1.7h-1.7zM513.9 107.7h1.7v1.7h-1.7zM513.9 110.2h1.7v1.7h-1.7zM513.9 112.2h1.7v1.7h-1.7zM513.9 115.2h1.7v1.7h-1.7zM513.9 117.2h1.7v1.7h-1.7zM513.9 122.2h1.7v1.7h-1.7zM513.9 126.2h1.7v1.7h-1.7z" fill="#111"/>
<text x="430.0" y="252.7" font-size="14.2" text-anchor="middle" font-weight="normal" fill="#141414" stroke="#141414" stroke-width="0.4" textLength="42.4" lengthAdjust="spacingAndGlyphs">CD11b</text>
<text transform="translate(310.3 127.5) rotate(-90)" font-size="14.9" text-anchor="middle" fill="#141414" stroke="#141414" stroke-width="0.4" textLength="34.2" lengthAdjust="spacingAndGlyphs">F4/80</text>
<defs><linearGradient id="g" gradientUnits="userSpaceOnUse" x1="60" y1="0" x2="190" y2="0"><stop offset="0" stop-color="#e0e0e0"/><stop offset="0.14" stop-color="#c0c0c0"/><stop offset="0.3" stop-color="#8c8c8c"/><stop offset="0.5" stop-color="#666"/><stop offset="0.7" stop-color="#474747"/><stop offset="1" stop-color="#222"/></linearGradient></defs>
<rect x="30.7" y="337.5" width="184.3" height="184.39999999999998" fill="#fff" stroke="none"/>
<path d="M55 521.9 L65 520.5 L75 518.1 L78.8 513 L81 506 L82.4 503 L84 506.5 L85.7 511.8 L87.6 514.3 L89 510 L89.9 505.5 L91.5 485 L92.7 475.2 L94 483 L95.5 489 L97 485.5 L98.4 482.8 L100 489 L101.5 494 L103.5 480 L105.3 470.8 L106.8 477.5 L108.1 482 L110.5 470 L112.9 458.8 L115.7 455.6 L117.4 446 L118.9 438.6 L120.2 441.7 L122 434 L123.9 426.8 L125.8 407.9 L127.0 392 L127.7 385.2 L128.7 388.5 L129.6 390.8 L130.8 387 L131.8 384.5 L132.7 390 L133.4 395.3 L134.4 409 L135.3 420.5 L136.3 424 L137.2 426.2 L138.8 418 L140.4 410.4 L141.7 421 L142.9 431.9 L144.2 429.5 L145.4 427.5 L146.7 440 L147.7 455 L148.7 466 L149.8 474.5 L151.5 471.5 L153.2 468.5 L154.8 477 L156.5 485.3 L157.7 483.5 L158.8 482.1 L160.2 493 L161.6 504.2 L164.1 506.8 L167.9 513 L174.2 517.5 L183 520 L195 521.3 L205 521.9Z" fill="url(#g)"/>
<path d="M31.5 520.8 L45 520.3 L55.4 519 L64 515.5 L72.4 511.5 L73.8 503 L76.2 488.8 L78.7 485 L80.5 476.6 L83.4 465 L86.2 445 L88.5 425 L89.7 410 L91.2 404 L92.2 395 L93.5 385.5 L95 388 L96.4 380 L97.9 376.7 L98.6 383 L99.8 392 L100.8 405 L101.6 418 L102.3 426.6 L103.8 425 L105.5 432 L108 438 L110.5 443 L111.3 450 L112.9 455 L115.5 467 L118.6 480.3 L121 490 L123.6 499 L125.5 506.8 L128 508 L130 509.3 L132.5 514.3 L136.3 516.9 L138.2 514.5 L140.1 510.6 L142 512.5 L143.9 513.7 L147.7 515.6 L151 515 L154 509.3 L156.5 508 L159 510.6 L162.8 515.6 L167.9 518.8 L175 520.3 L190 521" fill="none" stroke="#141414" stroke-width="1" stroke-linejoin="round"/>
<path d="M53 519.6 L55.2 514 L60 510.8 L66.5 501.5 L71.3 487 L75.2 466 L79 440 L82.8 404 L85.8 378 L89 358 L92.6 344.6 L94.3 342.6 L96.5 347" fill="none" stroke="#0a0a0a" stroke-width="2.0" stroke-dasharray="12 9" stroke-dashoffset="3" stroke-linejoin="round"/>
<path d="M104.0 380.4L106.3 391.8M109.6 399.2L111.7 410.5M115.8 421.5L118.0 432.9M118.9 439.6L120.3 453.9M122.2 469.1L124.9 478.6M128.6 491.3L131.9 501.0" fill="none" stroke="#0a0a0a" stroke-width="2.2"/>
<path d="M31.0 478 L31.3 505 L32.2 520.2 L45 519.8 L54 519 L55.5 515 L56.6 512 L59 512.5 L61.7 510 L65 505.5 L68 501.4 L69.2 498 L73 485 L74.2 474 L76.4 465 L79.9 445 L82 420 L83.4 405 L84.6 392 L86.5 375 L88.5 362 L91 350 L92.8 345 L94.1 343.2 L95.6 346 L97 353 L98.5 365 L100 382 L101 395 L102.3 405 L104.5 420 L107 437 L109.2 449.3 L111.5 452.5 L114.2 458.5 L115.8 462" fill="none" stroke="#0a0a0a" stroke-width="2.3" stroke-linejoin="round" stroke-linecap="round"/>
<rect x="30.7" y="337.5" width="184.3" height="184.39999999999998" fill="none" stroke="#141414" stroke-width="1.3"/>
<path d="M27.8 337.5H30.7" stroke="#141414" stroke-width="1.3"/>
<path d="M33.60 521.9v2.9M39.35 521.9v2.9M43.82 521.9v2.9M47.47 521.9v2.9M50.56 521.9v2.9M53.23 521.9v2.9M55.59 521.9v2.9M71.58 521.9v2.9M79.70 521.9v2.9M85.45 521.9v2.9M89.92 521.9v2.9M93.57 521.9v2.9M96.66 521.9v2.9M99.33 521.9v2.9M101.69 521.9v2.9M117.68 521.9v2.9M125.80 521.9v2.9M131.55 521.9v2.9M136.02 521.9v2.9M139.67 521.9v2.9M142.76 521.9v2.9M145.43 521.9v2.9M147.79 521.9v2.9M163.78 521.9v2.9M171.90 521.9v2.9M177.65 521.9v2.9M182.12 521.9v2.9M185.77 521.9v2.9M188.86 521.9v2.9M191.53 521.9v2.9M193.89 521.9v2.9M209.88 521.9v2.9" stroke="#141414" stroke-width="1.2" fill="none"/>
<path d="M57.70 521.9v2.9M103.80 521.9v2.9M149.90 521.9v2.9M196.00 521.9v2.9" stroke="#141414" stroke-width="2.52" fill="none"/>
<text x="62.70" y="535.2" font-size="8.6" text-anchor="end" fill="#141414" stroke="#141414" stroke-width="0.2" textLength="8.9" lengthAdjust="spacingAndGlyphs">10</text>
<text x="61.50" y="528.8000000000001" font-size="6.6" text-anchor="start" fill="#141414" stroke="#141414" stroke-width="0.2">2</text>
<text x="108.80" y="535.2" font-size="8.6" text-anchor="end" fill="#141414" stroke="#141414" stroke-width="0.2" textLength="8.9" lengthAdjust="spacingAndGlyphs">10</text>
<text x="107.60" y="528.8000000000001" font-size="6.6" text-anchor="start" fill="#141414" stroke="#141414" stroke-width="0.2">3</text>
<text x="154.90" y="535.2" font-size="8.6" text-anchor="end" fill="#141414" stroke="#141414" stroke-width="0.2" textLength="8.9" lengthAdjust="spacingAndGlyphs">10</text>
<text x="153.70" y="528.8000000000001" font-size="6.6" text-anchor="start" fill="#141414" stroke="#141414" stroke-width="0.2">4</text>
<text x="201.00" y="535.2" font-size="8.6" text-anchor="end" fill="#141414" stroke="#141414" stroke-width="0.2" textLength="8.9" lengthAdjust="spacingAndGlyphs">10</text>
<text x="199.80" y="528.8000000000001" font-size="6.6" text-anchor="start" fill="#141414" stroke="#141414" stroke-width="0.2">5</text>
<text x="17.4" y="341.4" font-size="3.6" font-weight="bold" font-style="italic" fill="#141414">267</text>
<text x="23.9" y="525.4" font-size="4.6" font-weight="bold" fill="#666" stroke="#666" stroke-width="0.5">0</text>
<text x="131.05" y="551.8" font-size="14.2" text-anchor="middle" font-weight="normal" fill="#141414" stroke="#141414" stroke-width="0.4" textLength="67.5" lengthAdjust="spacingAndGlyphs">RAG1- GFP</text>
<path d="M256.2 380.5H293.8" stroke="#111" stroke-width="1.6"/>
<path d="M256.2 402.5H267.5M280 402.5H291.3" stroke="#111" stroke-width="2"/>
<path d="M256.2 426.3H293.8" stroke="#999" stroke-width="1"/>
<rect x="256.2" y="444.5" width="37.6" height="8.5" fill="#333"/>
<text x="304.6" y="384.3" font-size="12.0" text-anchor="start" font-weight="normal" fill="#141414" stroke="#141414" stroke-width="0.4" textLength="131.0" lengthAdjust="spacingAndGlyphs">RAG1<tspan font-size="8" dy="-4.2">-</tspan><tspan dy="4.2"> CMP derived pDC</tspan></text>
<text x="304.6" y="406.2" font-size="12.0" text-anchor="start" font-weight="normal" fill="#141414" stroke="#141414" stroke-width="0.4" textLength="130.4" lengthAdjust="spacingAndGlyphs">RAG1<tspan font-size="8" dy="-4.2">-</tspan><tspan dy="4.2"> CMP derived cDC</tspan></text>
<text x="304.6" y="430.0" font-size="12.0" text-anchor="start" font-weight="normal" fill="#141414" stroke="#141414" stroke-width="0.4" textLength="131.5" lengthAdjust="spacingAndGlyphs">RAG1<tspan font-size="8" dy="-4.2">+</tspan><tspan dy="4.2"> CMP derived cDC</tspan></text>
<text x="304.6" y="452.5" font-size="12.0" text-anchor="start" font-weight="normal" fill="#141414" stroke="#141414" stroke-width="0.4" textLength="133.8" lengthAdjust="spacingAndGlyphs">RAG1<tspan font-size="8" dy="-4.2">+</tspan><tspan dy="4.2"> CMP derived pDC</tspan></text>
</svg>
</body></html>
